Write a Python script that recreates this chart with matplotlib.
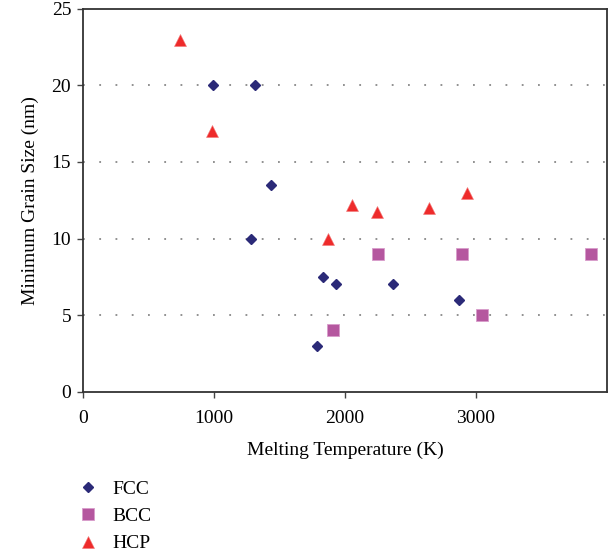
import matplotlib.pyplot as plt

# melting temperature (K) vs minimum grain size (nm)
fcc_x = [990, 1310, 1438, 1285, 1829, 1930, 1783, 2364, 2871]
fcc_y = [20, 20, 13.5, 10, 7.5, 7, 3, 7, 6]

bcc_x = [1911, 2254, 2893, 3882, 3047]
bcc_y = [4, 9, 9, 9, 5]

hcp_x = [739, 982, 2050, 1869, 2246, 2640, 2928]
hcp_y = [23, 17, 12.2, 10, 11.7, 12, 13]

x_ticks = [0, 1000, 2000, 3000]
y_ticks = [0, 5, 10, 15, 20, 25]

plt.rcParams["font.family"] = ["Liberation Serif", "DejaVu Serif"]

fig = plt.figure(figsize=(6.1, 5.57), dpi=100)
ax = fig.add_axes([0.136, 0.297, 0.859, 0.687])

ax.plot(fcc_x, fcc_y, linestyle="none", marker="D", ms=5.6, color="#2b2a78",
        mec="#2b2a78", label="FCC", zorder=3)
ax.plot(bcc_x, bcc_y, linestyle="none", marker="s", ms=8, color="#b5579f",
        mec="#d89ccb", mew=0.6, label="BCC", zorder=3)
ax.plot(hcp_x, hcp_y, linestyle="none", marker="^", ms=8.5, color="#ee2b2b",
        mec="#f27a7a", mew=0.4, label="HCP", zorder=3)

ax.set_xlim(0, 4000)
ax.set_ylim(0, 25)
ax.set_xticks(x_ticks)
ax.set_yticks(y_ticks)
ax.tick_params(direction="out", length=4.5, width=1, color="#444444",
               labelsize=14, pad=4)
ax.tick_params(axis="x", pad=9)

# dotted horizontal gridlines, not on the axis limits
for yv in y_ticks[1:-1]:
    ax.axhline(yv, color="#888888", linestyle=(0, (1, 8)), linewidth=1.3, zorder=1)

for s in ax.spines.values():
    s.set_color("#333333")
    s.set_linewidth(1.3)

ax.set_xlabel("Melting Temperature (K)", fontsize=14, labelpad=10)
ax.set_ylabel("Minimum Grain Size (nm)", fontsize=14, labelpad=9)

fig.legend(loc="upper left", bbox_to_anchor=(0.115, 0.152), frameon=False,
           fontsize=14, numpoints=1, handlelength=1.0, handletextpad=0.75,
           labelspacing=0.5, borderaxespad=0)

fig.savefig("out.png", dpi=100)
